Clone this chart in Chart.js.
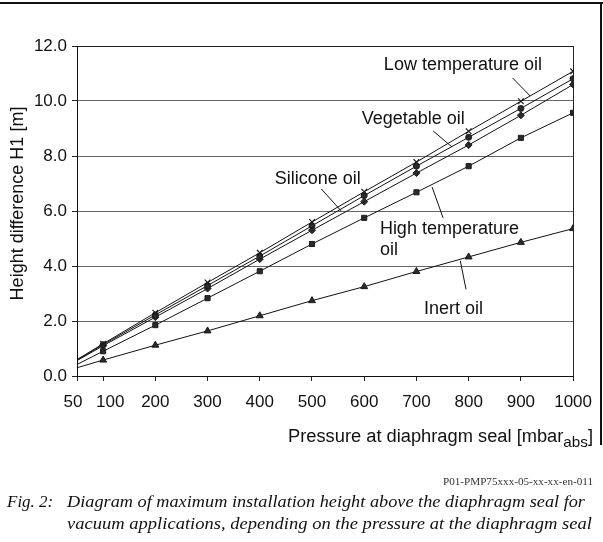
<!DOCTYPE html>
<html><head><meta charset="utf-8">
<script src="https://cdn.jsdelivr.net/npm/chart.js@4/dist/chart.umd.min.js"></script>
<style>
html,body{margin:0;padding:0;background:#fff;}
#wrap{position:relative;width:603px;height:542px;overflow:hidden;background:#fff;}
#c{position:absolute;left:0;top:0;}
.frameTop{position:absolute;left:0;top:2px;width:603px;height:2px;background:#111;}
.frameRight{position:absolute;left:600px;top:2px;width:1.5px;height:443px;background:#111;}
.txt{position:absolute;white-space:nowrap;color:#111;transform-origin:0 0;}
.sans{font-family:"Liberation Sans",Arial,sans-serif;}
.serif{font-family:"Liberation Serif","Times New Roman",serif;}
sub{font-size:15px;vertical-align:-5px;line-height:0;}
</style>
</head><body>
<div id="wrap">
<canvas id="c" width="603" height="542"></canvas>
<div class="frameTop"></div>
<div class="frameRight"></div>
<div class="txt sans" id="xt" style="left:288px;top:427px;font-size:18px;line-height:18px;" data-w="305">Pressure at diaphragm seal [mbar<sub>abs</sub>]</div>
<div class="txt serif" id="code" style="left:443px;top:477px;font-size:10px;line-height:10px;color:#333;" data-w="150">P01-PMP75xxx-05-xx-xx-en-011</div>
<div class="txt serif" style="left:7px;top:493px;font-size:17px;line-height:17px;font-style:italic;">Fig. 2:</div>
<div class="txt serif" style="left:67px;top:493px;font-size:17px;line-height:17px;font-style:italic;" data-w="518">Diagram of maximum installation height above the diaphragm seal for</div>
<div class="txt serif" style="left:67px;top:515px;font-size:17px;line-height:17px;font-style:italic;" data-w="525">vacuum applications, depending on the pressure at the diaphragm seal</div>
</div>
<script>
// ---- data ----
const pressures = [50, 100, 200, 300, 400, 500, 600, 700, 800, 900, 1000];
const lowTempOil   = [0.60, 1.17, 2.30, 3.40, 4.48, 5.60, 6.70, 7.78, 8.90, 9.99, 11.08];
const vegetableOil = [0.58, 1.14, 2.22, 3.29, 4.36, 5.46, 6.56, 7.63, 8.68, 9.73, 10.81];
const siliconeOil  = [0.56, 1.10, 2.14, 3.18, 4.25, 5.30, 6.34, 7.38, 8.40, 9.48, 10.60];
const highTempOil  = [0.42, 0.90, 1.85, 2.83, 3.81, 4.80, 5.75, 6.68, 7.63, 8.66, 9.57];
const inertOil     = [0.30, 0.58, 1.12, 1.64, 2.19, 2.74, 3.25, 3.80, 4.33, 4.86, 5.36];
const xTicks = [50, 100, 200, 300, 400, 500, 600, 700, 800, 900, 1000];
const yTicks = [0, 2, 4, 6, 8, 10, 12];
const seriesNames = ["Low temperature oil", "Vegetable oil", "Silicone oil", "High temperature oil", "Inert oil"];
const yTitle = "Height difference H1 [m]";

// annotation labels with leader lines (data coordinates)
const annotations = [
  {lines:["Low temperature oil"], at:[789, 11.31], align:"center", lead:[[884,10.84],[918,10.18]]},
  {lines:["Vegetable oil"], at:[694, 9.36], align:"center", lead:[[732,8.91],[768,8.33]]},
  {lines:["Silicone oil"], at:[511, 7.16], align:"center", lead:[[518,6.80],[556,6.00]]},
  {lines:["High temperature","oil"], at:[630, 5.35], align:"left", lead:[[730,6.87],[751,5.75]]},
  {lines:["Inert oil"], at:[771, 2.44], align:"center", lead:[[784,4.19],[795,3.15]]}
];

const toXY = arr => pressures.map((p,i)=>({x:p, y:arr[i]}));
const mk = (label, arr, style, r) => ({
  label, data: toXY(arr), borderColor:'#111', borderWidth:1, tension:0,
  pointStyle: style, backgroundColor:'#2a2a2a', pointBorderColor:'#1a1a1a', pointBackgroundColor:'#2a2a2a',
  pointBorderWidth: style==='crossRot'?1.2:1,
  pointRadius: ctx => ctx.dataIndex===0 ? 0 : r, fill:false
});

const annoPlugin = {
  id:'anno',
  afterDatasetsDraw(chart){
    const {ctx, scales:{x,y}} = chart;
    ctx.save();
    ctx.strokeStyle='#111'; ctx.lineWidth=1;
    ctx.fillStyle='#111';
    ctx.font='18px "Liberation Sans", Arial, sans-serif';
    ctx.textBaseline='middle';
    annotations.forEach(a=>{
      ctx.beginPath();
      ctx.moveTo(x.getPixelForValue(a.lead[0][0]), y.getPixelForValue(a.lead[0][1]));
      ctx.lineTo(x.getPixelForValue(a.lead[1][0]), y.getPixelForValue(a.lead[1][1]));
      ctx.stroke();
      ctx.textAlign=a.align;
      const px=x.getPixelForValue(a.at[0]), py=y.getPixelForValue(a.at[1]);
      a.lines.forEach((t,i)=>ctx.fillText(t, px, py+i*21));
    });
    // y axis title
    ctx.translate(23, (chart.chartArea.top+chart.chartArea.bottom)/2 - 7.5);
    ctx.rotate(-Math.PI/2);
    ctx.textAlign='center'; ctx.textBaseline='alphabetic';
    ctx.fillText(yTitle, 0, 0);
    ctx.restore();
  }
};

// the two crowded first labels are nudged apart, as in the reference
const xLabel = v => v===50 ? '50\u00a0\u2009' : v===100 ? '\u00a0\u00a0\u00a0100' : String(v);

new Chart(document.getElementById('c'), {
  type:'line',
  data:{datasets:[
    mk(seriesNames[0], lowTempOil, 'crossRot', 4),
    mk(seriesNames[1], vegetableOil, 'circle', 3),
    mk(seriesNames[2], siliconeOil, 'rectRot', 3.5),
    mk(seriesNames[3], highTempOil, 'rect', 3.6),
    mk(seriesNames[4], inertOil, 'triangle', 4)
  ]},
  options:{
    responsive:false, animation:false, devicePixelRatio:1,
    layout:{padding:{left:0, top:46, right:27, bottom:0}},
    plugins:{legend:{display:false}, tooltip:{enabled:false}},
    scales:{
      x:{type:'linear', min:50, max:1000,
        afterBuildTicks: s => { s.ticks = xTicks.map(v=>({value:v})); },
        afterFit: s => { s.height = 166; },
        ticks:{autoSkip:false, maxRotation:0, padding:11, color:'#111',
          font:{family:'"Liberation Sans", Arial, sans-serif', size:17},
          callback: v => xLabel(v)},
        grid:{drawOnChartArea:true, drawTicks:true, tickLength:5, tickColor:'#222',
          color: c => (c.tick && c.tick.value===1000) ? '#222' : 'rgba(0,0,0,0)', lineWidth:1},
        border:{display:true, color:'#111', width:1}
      },
      y:{type:'linear', min:0, max:12,
        afterBuildTicks: s => { s.ticks = yTicks.map(v=>({value:v})); },
        afterFit: s => { s.width = 77; },
        ticks:{padding:5, color:'#111',
          font:{family:'"Liberation Sans", Arial, sans-serif', size:17},
          callback: v => Number(v).toFixed(1)},
        grid:{drawTicks:true, tickLength:5, tickColor:'#222',
          color: c => (c.tick && (c.tick.value===12 || c.tick.value===0)) ? '#222' : '#666', lineWidth:1},
        border:{display:true, color:'#111', width:1}
      }
    }
  },
  plugins:[annoPlugin]
});

// fit text widths to the reference
document.querySelectorAll('.txt[data-w]').forEach(el=>{
  const w = el.getBoundingClientRect().width;
  const target = +el.dataset.w;
  if (w>0) el.style.transform = 'scaleX(' + (target/w).toFixed(4) + ')';
});
</script>
</body></html>
